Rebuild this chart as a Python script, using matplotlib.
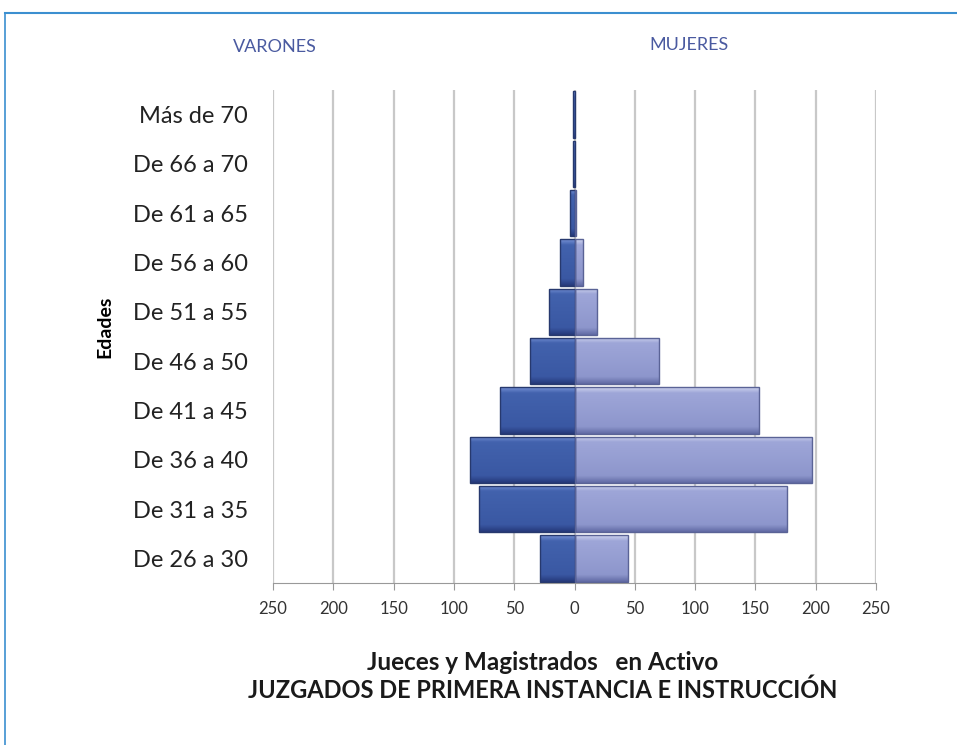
import matplotlib.pyplot as plt
import numpy as np
from matplotlib.colors import LinearSegmentedColormap
from matplotlib.patches import Rectangle

plt.rcParams['font.family'] = ['Lato', 'DejaVu Sans']

# datos
edades = ["De 26 a 30", "De 31 a 35", "De 36 a 40", "De 41 a 45", "De 46 a 50",
          "De 51 a 55", "De 56 a 60", "De 61 a 65", "De 66 a 70", "Más de 70"]
varones = [29, 79, 87, 62, 37, 21, 12, 4, 1, 1]
mujeres = [44, 176, 197, 153, 70, 19, 7, 1, 0, 0]
ticks = [-250, -200, -150, -100, -50, 0, 50, 100, 150, 200, 250]

fig = plt.figure(figsize=(9.57, 7.45), dpi=100)
ax = fig.add_axes([0.2853, 0.2174, 0.6301, 0.6618])

cm_v = LinearSegmentedColormap.from_list(
    "v", [(0, "#7590d4"), (0.12, "#4262ad"), (0.85, "#3a58a3"), (1, "#26397a")])
cm_m = LinearSegmentedColormap.from_list(
    "m", [(0, "#ccd1ee"), (0.12, "#9ea6d8"), (0.85, "#8d96cc"), (1, "#626ba5")])
grad = np.linspace(0, 1, 60).reshape(-1, 1)
h = 0.94


def barra(x0, x1, y, cmap, edge):
    if x1 - x0 <= 0:
        return
    im = ax.imshow(grad, extent=[x0, x1, y - h / 2, y + h / 2], aspect='auto',
                   cmap=cmap, zorder=3)
    r = Rectangle((x0, y - h / 2), x1 - x0, h, facecolor='none',
                  edgecolor=edge, linewidth=1.0, zorder=4)
    ax.add_patch(r)
    im.set_clip_path(r)


for i in range(len(edades)):
    barra(-varones[i], 0, i, cm_v, "#27396e")
    barra(0, mujeres[i], i, cm_m, "#5a6396")

ax.set_xlim(-250, 250)
ax.set_ylim(-0.5, len(edades) - 0.5)
ax.set_xticks(ticks)
ax.set_xticklabels([str(abs(t)) for t in ticks], fontsize=12, color="#333333")
ax.set_yticks(range(len(edades)))
ax.set_yticklabels(edades, fontsize=17, color="#222222")
ax.tick_params(axis='y', length=0, pad=18)
ax.tick_params(axis='x', length=5, color="#999999", pad=8)

ax.grid(axis='x', color="#c8c8c8", linewidth=1.6, zorder=0)
ax.set_axisbelow(True)
for s in ['top', 'right', 'left']:
    ax.spines[s].set_visible(False)
ax.spines['bottom'].set_color("#999999")

ax.set_ylabel("Edades", fontsize=14, fontweight='bold', labelpad=0)
ax.yaxis.set_label_coords(-0.265, 0.52)

fig.text(0.287, 0.937, "VARONES", ha='center', va='center', fontsize=13, color="#4a5aa0")
fig.text(0.720, 0.939, "MUJERES", ha='center', va='center', fontsize=13, color="#4a5aa0")
fig.text(0.567, 0.111, "Jueces y Magistrados   en Activo", ha='center', va='center',
         fontsize=17.5, fontweight='bold', color="#1a1a1a")
fig.text(0.567, 0.074, "JUZGADOS DE PRIMERA INSTANCIA E INSTRUCCIÓN", ha='center', va='center',
         fontsize=17, fontweight='bold', color="#1a1a1a")

# marco azul
fig.add_artist(plt.Line2D([0.005, 1.0], [0.982, 0.982], color="#3b8fd0", linewidth=1.5))
fig.add_artist(plt.Line2D([0.005, 0.005], [0.0, 0.982], color="#3b8fd0", linewidth=1.2))

fig.savefig("out.png", dpi=100)
